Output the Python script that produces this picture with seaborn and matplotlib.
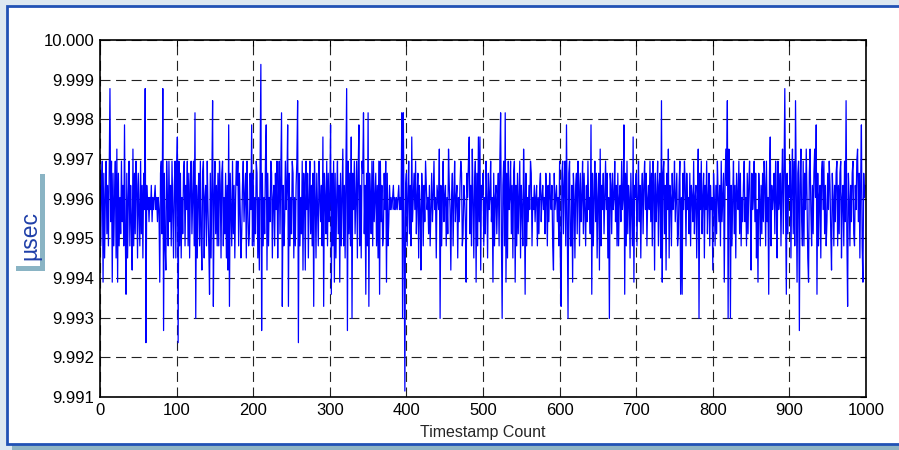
import numpy as np
import pandas as pd
import matplotlib
matplotlib.use("Agg")
import matplotlib.pyplot as plt
from matplotlib.patches import Rectangle
from matplotlib.ticker import FormatStrFormatter
import seaborn as sns

# Quantized timestamp levels: value = BASE + STEP * code
BASE = 9.99603
STEP = 0.000305

codes_000 = [2, -4, 1, 3, -7, 2, -5, 0, 3, -3,
             1, -4, 2, 9, -2, 3, -7, 2, -4, 0,
             3, -5, 4, -7, 2, -4, 0, -3, 3, -2,
             1, -4, 6, -3, -8, 2, -5, 0, 3, -4,
             1, -2, -6, 4, -4, 2, -3, 3, 1, -5,
             2, -1, -4, 3, -3, 1, -5, 2, -1, 9,
             -12, 1, -1, 0, -2, 0, -1, 1, -2, 0,
             -1, 0, 1, -1, 0, -2, 0, -1, -7, 2,
             3, -3, 9, -11, 2, -4, -6, 3, 0, -4,
             3, -2, 1, -4, 3, -1, -5, 1, 3, -5]
codes_100 = [2, 5, -12, 3, -4, 2, -5, 0, -3, 2,
             3, -4, 1, -1, 3, -4, 2, -5, 1, 3,
             -3, 0, 3, -4, 7, -10, 1, -5, 0, 2,
             -4, 3, -3, -6, 2, 3, -5, 0, 1, -4,
             3, -1, -4, -8, 2, -5, 1, 8, -9, 0,
             3, -3, 1, -4, 2, -4, 3, 1, -5, 2,
             3, -4, 0, -3, 2, -5, 1, -6, 6, -9,
             2, -1, -4, 3, -3, 1, -5, 0, 3, 1,
             3, -4, 2, -1, -5, -3, 1, 3, -2, 0,
             2, -5, 3, -1, -4, -3, 2, -1, 6, -4]
codes_200 = [2, -4, 0, -3, 3, 2, -5, 0, -6, 3,
             11, -11, 2, -4, 0, -3, 3, 6, -6, 2,
             -4, 0, -2, 3, 2, -5, 0, 1, -4, 2,
             -1, 3, -5, 0, 3, -3, 2, 7, -9, 1,
             -4, -2, 3, -1, 1, 6, -9, 2, -4, 0,
             -3, 3, 2, -5, 0, -4, 1, 3, 8, -12,
             2, -4, 0, -3, 3, -6, 2, 0, -6, 3,
             -1, 2, -5, 0, 3, -3, 1, -4, 2, -9,
             3, 0, -5, 2, -1, -4, 3, 0, -2, 1,
             -4, 5, -9, 2, 0, -3, 3, -4, 2, -2]
codes_300 = [0, 6, -8, 2, -4, 3, -7, 2, -5, 0,
             3, -3, 1, -7, 2, -4, 0, 4, -4, 1,
             -5, 2, 9, -11, 3, -3, 2, -4, 5, -10,
             2, -1, 3, -3, 0, 3, -5, 2, 6, -4,
             1, -5, 3, 2, 7, -3, 1, -8, 2, -4,
             7, -9, 2, 0, -3, 3, -4, 3, -2, 0,
             2, -4, 1, -5, 3, -8, 3, -2, 1, -4,
             -3, 2, -1, 3, -7, 2, -4, -2, 1, -1,
             0, -1, 0, 1, -1, 0, -1, 0, -1, 0,
             1, -1, 0, -1, 7, -10, 7, -3, -16, 1]
codes_400 = [2, -4, 0, 3, -3, 1, -4, 5, -2, 0,
             2, -1, 3, -3, 0, 2, -5, 1, -1, -6,
             2, 0, -4, 1, -2, 3, 1, -1, 0, -3,
             1, -4, -1, 2, -2, 0, 3, -1, 0, -5,
             1, 0, -1, 4, -10, 1, -4, 0, 3, -2,
             0, 1, -4, 0, -3, 4, 1, -1, -6, 0,
             2, -4, 0, 3, -2, 0, 1, -5, 0, -2,
             1, 3, 2, -4, -3, 1, 0, -2, -7, 2,
             0, 3, 5, -3, 1, -4, 4, 0, -5, 1,
             3, -7, 2, -4, 5, -2, 5, -6, 1, 0]
codes_500 = [2, -4, 0, -3, 3, 0, -5, 2, -1, 0,
             3, -2, 0, -7, 2, -4, 0, 1, -3, 0,
             2, -4, 3, 7, -3, -10, 1, 3, -4, 7,
             -7, 2, -5, 3, -1, 0, 3, -3, 1, -5,
             2, 3, -7, 1, -4, 2, -3, 0, 3, -5,
             1, -1, -4, 4, 0, -8, 2, -4, 0, -2,
             1, -1, 3, 2, -4, 0, -1, 1, -2, 0,
             1, -4, 0, -3, 1, 2, -2, 0, 1, -1,
             0, -3, 2, 0, -4, 1, -2, 2, 0, -1,
             1, -4, -6, 2, -1, 0, 1, -2, 0, -4]
codes_600 = [3, -5, -9, 2, 3, -3, 1, 3, -4, 6,
             -2, -10, 2, 3, -4, -4, 1, -7, 2, 0,
             -5, 1, 2, -3, 3, 1, -4, 2, -2, 0,
             3, -3, 2, -1, -4, 1, -2, 3, -1, 0,
             -3, 6, -8, 2, -4, 0, 3, -2, 2, -5,
             0, 2, -6, 4, -4, 1, -1, 2, -3, 0,
             3, -1, 2, -5, 0, -10, 2, 1, -3, 2,
             -1, 0, 3, -2, 1, -4, 2, -4, 0, 1,
             -2, 3, -1, 0, 6, -8, 2, -4, 3, -3,
             1, 0, -5, 2, -1, -4, 5, -7, 1, 0]
codes_700 = [2, -4, 0, 3, -2, 1, -5, 0, 2, -3,
             1, 3, -1, 2, -4, 0, 1, -1, 3, -2,
             2, -4, 3, 1, -6, 2, -2, 0, 3, -4,
             1, 2, -5, 8, -7, 2, 3, -3, 1, -6,
             2, -1, 4, -5, 1, 0, -4, 2, -1, 0,
             3, -2, 0, 2, -4, -3, 1, 3, -8, 0,
             -8, 2, -1, 3, 1, -4, 2, -1, 0, -3,
             2, -4, 1, 0, -2, 3, -3, 0, 1, -5,
             0, 4, -10, 2, -1, 3, -3, 0, 2, -5,
             1, -1, 3, -3, 0, 2, -4, 1, -1, 0]
codes_800 = [-6, 2, 0, -4, 1, -3, 3, 0, -2, 1,
             -4, 3, -2, 0, 2, -7, 1, 4, 1, 8,
             -10, 4, 2, -10, 1, -4, 0, 3, -3, 1,
             -5, 2, 0, -1, 3, -3, 2, -4, 0, -2,
             1, 3, -2, 0, -4, 2, -3, 1, 3, -1,
             -6, 2, -1, 0, 3, -2, 2, -5, -1, -7,
             2, 0, -4, 1, -3, 2, -2, 3, 1, -4,
             3, -2, 0, -8, 2, 5, -4, 1, -1, 0,
             2, -3, 3, 0, -5, 3, -1, 0, 2, -4,
             1, 4, -3, 2, 9, -1, -8, 2, -3, 1]
codes_900 = [0, 3, -5, 1, 4, -3, 3, -4, 8, 0,
             -7, 2, 3, -11, 1, 4, -2, -4, 3, -4,
             2, -1, 4, 0, -5, -7, 2, 4, -1, -4,
             1, -3, 2, 4, 0, 6, -8, 2, -4, 0,
             1, -5, 2, 3, -1, 3, -3, 1, -4, -2,
             2, -1, 3, 1, -3, -6, 2, 0, -4, 1,
             -2, 2, 3, -4, 1, -3, 2, 3, -5, 0,
             1, -4, 3, -2, 8, -3, -9, 2, 0, -4,
             1, -2, 2, 3, -3, -4, 1, -1, 3, 4,
             -2, 2, -5, 1, 6, -4, -7, 2, 0, 1]

x_ticks = [0, 100, 200, 300, 400, 500, 600, 700, 800, 900, 1000]
y_ticks = [9.991, 9.992, 9.993, 9.994, 9.995, 9.996, 9.997, 9.998, 9.999, 10.000]

codes = (codes_000 + codes_100 + codes_200 + codes_300 + codes_400 +
         codes_500 + codes_600 + codes_700 + codes_800 + codes_900)
df = pd.DataFrame({"count": np.arange(len(codes)),
                   "usec": BASE + STEP * np.array(codes, dtype=float)})

sns.set_theme(style="white")
plt.rcParams["font.family"] = ["Liberation Sans", "DejaVu Sans"]

W, H = 899, 450
fig = plt.figure(figsize=(W / 100, H / 100), dpi=100)
fig.patch.set_facecolor("#dde8f1")

def fr(x0, y0, x1, y1, **kw):
    # rectangle in pixel coords (top-left origin) -> figure fraction
    return Rectangle((x0 / W, 1 - y1 / H), (x1 - x0) / W, (y1 - y0) / H,
                     transform=fig.transFigure, **kw)

fig.patches.append(fr(12, 444, 905, 452, facecolor="#8fb4c4", edgecolor="none", zorder=0))
fig.patches.append(fr(7, 6, 905, 444, facecolor="white", edgecolor="#2152b5",
                      linewidth=2, zorder=1))
# bracket behind the y label
fig.patches.append(fr(40, 174, 45, 271, facecolor="#8ab4c4", edgecolor="none", zorder=2))
fig.patches.append(fr(16, 266, 45, 271, facecolor="#8ab4c4", edgecolor="none", zorder=2))

ax = fig.add_axes([100 / W, 1 - 397 / H, (866 - 100) / W, (397 - 40) / H])
ax.set_zorder(5)
ax.set_facecolor("white")
sns.lineplot(data=df, x="count", y="usec", ax=ax, color="#0000ff",
             linewidth=0.9, estimator=None)

ax.set_xlim(0, 1000)
ax.set_ylim(9.991, 10.000)
ax.set_xticks(x_ticks)
ax.set_yticks(y_ticks)
ax.yaxis.set_major_formatter(FormatStrFormatter("%.3f"))
ax.grid(True, color="#222222", linestyle=(0, (9, 5)), linewidth=0.8)
ax.tick_params(axis="both", direction="in", length=4, width=0.8, labelsize=12,
               colors="black", top=True, right=True, pad=4)
for s in ax.spines.values():
    s.set_color("black")
    s.set_linewidth(1.2)
ax.set_xlabel("Timestamp Count", fontsize=11.5, labelpad=5)
ax.set_ylabel("")

fig.text(30 / W, 1 - 236 / H, "\u00b5sec", rotation=90, color="#1f3fa8",
         fontsize=16.5, ha="center", va="center", zorder=3)

fig.savefig("out.png", dpi=100, facecolor=fig.get_facecolor())
